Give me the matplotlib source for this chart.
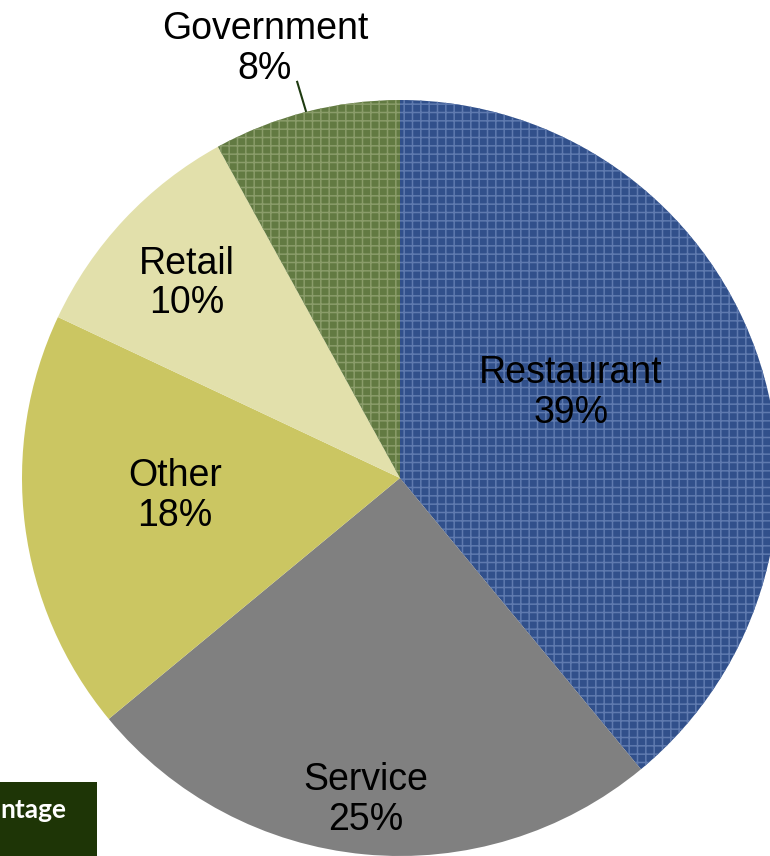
import matplotlib.pyplot as plt
from matplotlib.patches import Rectangle

# 업종별 비율 데이터
categories = ['Restaurant', 'Service', 'Other', 'Retail', 'Government']
shares = [39, 25, 18, 10, 8]
colors = ['#31508b', '#808080', '#cbc662', '#e2e0ab', '#627a42']
hatch_colors = ['#5f7aaf', None, None, None, '#8a9c6a']

# 라벨 위치 (데이터 좌표, 반지름 1 기준)
label_pos = [(0.452, 0.225), (-0.090, -0.852), (-0.595, -0.048),
             (-0.563, 0.515), (-0.357, 1.135)]

plt.rcParams['font.family'] = ['Liberation Sans', 'DejaVu Sans']
plt.rcParams['hatch.linewidth'] = 1.1

fig = plt.figure(figsize=(7.7, 8.56), dpi=100)
# 원 중심 (400, 478) px, 반지름 378 px
ax = fig.add_axes([22 / 770, 0, 756 / 770, 756 / 856])

wedges, _ = ax.pie(shares, colors=colors, startangle=90, counterclock=False,
                   wedgeprops=dict(linewidth=0))
for w, hc in zip(wedges, hatch_colors):
    if hc:
        w.set_hatch('++')
        w.set_edgecolor(hc)
        w.set_linewidth(0)

ax.set_xlim(-1, 1)
ax.set_ylim(-1, 1)
ax.set_aspect('equal')
ax.axis('off')

for name, val, (x, y) in zip(categories, shares, label_pos):
    ax.text(x, y, f'{name}\n{val}%', ha='center', va='center',
            fontsize=27, linespacing=1.13, color='black', clip_on=False)

# Government 지시선
ax.plot([-0.272, -0.249], [1.048, 0.971], color='#1e3a10', lw=1.5, clip_on=False)

# 왼쪽 아래 잘린 상자
fig.patches.append(Rectangle((0, 0), 97 / 770, 74 / 856,
                             transform=fig.transFigure, facecolor='#1e3506',
                             edgecolor='none'))
fig.text(0.5 / 770, (856 - 818) / 856, 'ntage', ha='left', va='baseline',
         fontsize=19, fontweight='bold', color='white', family=['Lato', 'DejaVu Sans'])

fig.savefig('out.png', dpi=100)
